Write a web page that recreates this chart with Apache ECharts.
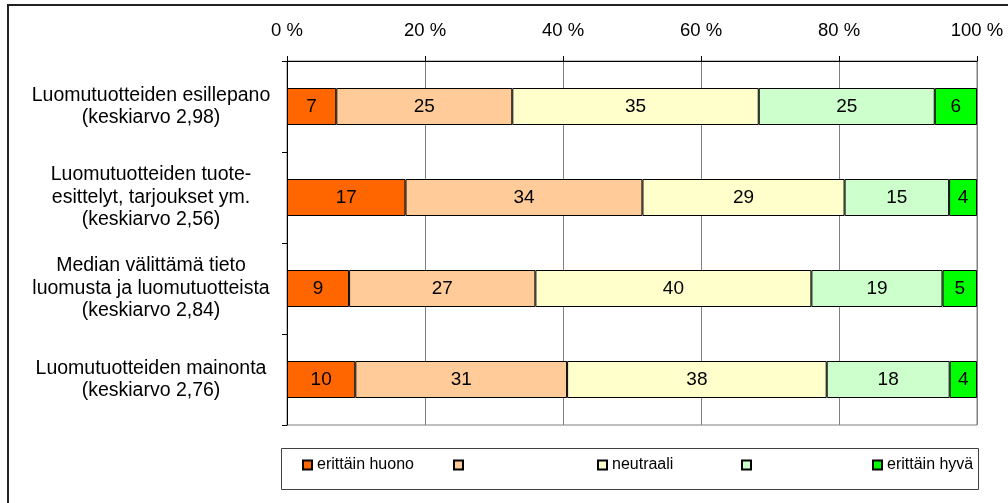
<!DOCTYPE html>
<html>
<head>
<meta charset="utf-8">
<script src="https://cdn.jsdelivr.net/npm/echarts@6/dist/echarts.min.js"></script>
<style>
  html, body { margin: 0; padding: 0; background: #fff; }
  #chart { width: 1008px; height: 503px; }
</style>
</head>
<body>
<div id="chart"></div>
<script>
// Survey items, top to bottom
const categories = [
  'Luomutuotteiden esillepano\n(keskiarvo 2,98)',
  'Luomutuotteiden tuote-\nesittelyt, tarjoukset ym.\n(keskiarvo 2,56)',
  'Median välittämä tieto\nluomusta ja luomutuotteista\n(keskiarvo 2,84)',
  'Luomutuotteiden mainonta\n(keskiarvo 2,76)'
];

// Answer distribution (%) per rating level
const erittainHuono = [7, 17, 9, 10];
const huono         = [25, 34, 27, 31];
const neutraali     = [35, 29, 40, 38];
const hyva          = [25, 15, 19, 18];
const erittainHyva  = [6, 4, 5, 4];

const seriesNames  = ['erittäin huono', ' ', 'neutraali', '  ', 'erittäin hyvä'];
const seriesValues = [erittainHuono, huono, neutraali, hyva, erittainHyva];
const seriesColors = ['#FF6600', '#FFCC99', '#FFFFCC', '#CCFFCC', '#00FF00'];

const xTicks = [0, 20, 40, 60, 80, 100];

// Each bar is scaled to a 100 % stack
const rowTotals = categories.map((_, i) =>
  seriesValues.reduce((s, arr) => s + arr[i], 0));

const FONT = 'Liberation Sans, Arial, sans-serif';

const chart = echarts.init(document.getElementById('chart'), null, { renderer: 'canvas' });

const series = seriesNames.map((name, k) => ({
  name: name,
  type: 'bar',
  stack: 'total',
  barWidth: 37,
  data: seriesValues[k].map((v, i) => v / rowTotals[i] * 100),
  itemStyle: { color: seriesColors[k], borderColor: '#000', borderWidth: 1 },
  label: {
    show: true,
    position: 'inside',
    color: '#000',
    fontFamily: FONT,
    fontSize: 19,
    formatter: p => String(seriesValues[k][p.dataIndex])
  },
  emphasis: { disabled: true },
  animation: false
}));

// One legend per entry so the entries sit on an even spacing
const legendLeft = [302, 453, 597, 741, 872];
const legends = seriesNames.map((name, k) => ({
  data: [name],
  left: legendLeft[k],
  top: 457,
  padding: 0,
  itemWidth: 9,
  itemHeight: 9,
  itemGap: 0,
  icon: 'rect',
  selectedMode: false,
  textStyle: { color: '#000', fontFamily: FONT, fontSize: 16 }
}));

chart.setOption({
  animation: false,
  textStyle: { fontFamily: FONT },
  grid: {
    left: 287, right: 31, top: 61, bottom: 78,
    show: true, borderColor: '#808080', borderWidth: 1, backgroundColor: 'transparent'
  },
  xAxis: {
    type: 'value',
    position: 'top',
    min: xTicks[0],
    max: xTicks[xTicks.length - 1],
    interval: xTicks[1] - xTicks[0],
    axisLine: { show: true, lineStyle: { color: '#000', width: 1 } },
    axisTick: { show: true, length: 5, lineStyle: { color: '#000' } },
    splitLine: { show: true, lineStyle: { color: '#808080', width: 1 } },
    axisLabel: {
      formatter: '{value} %',
      color: '#000',
      fontFamily: FONT,
      fontSize: 18.5,
      margin: 21
    }
  },
  yAxis: {
    type: 'category',
    inverse: true,
    data: categories,
    axisLine: { show: true, lineStyle: { color: '#000', width: 1 } },
    axisTick: { show: true, length: 5, lineStyle: { color: '#000' } },
    axisLabel: {
      interval: 0,
      align: 'center',
      margin: 136,
      color: '#000',
      fontFamily: FONT,
      fontSize: 19.5,
      lineHeight: 22.5
    }
  },
  legend: legends,
  graphic: [
    {
      type: 'rect',
      shape: { x: 8, y: 5, width: 1100, height: 600 },
      style: { fill: 'none', stroke: '#222', lineWidth: 2 },
      silent: true, z: -10
    },
    {
      type: 'rect',
      shape: { x: 281.5, y: 448.5, width: 697, height: 41 },
      style: { fill: 'none', stroke: '#404040', lineWidth: 1 },
      silent: true, z: -10
    }
  ],
  series: series
});
</script>
</body>
</html>
